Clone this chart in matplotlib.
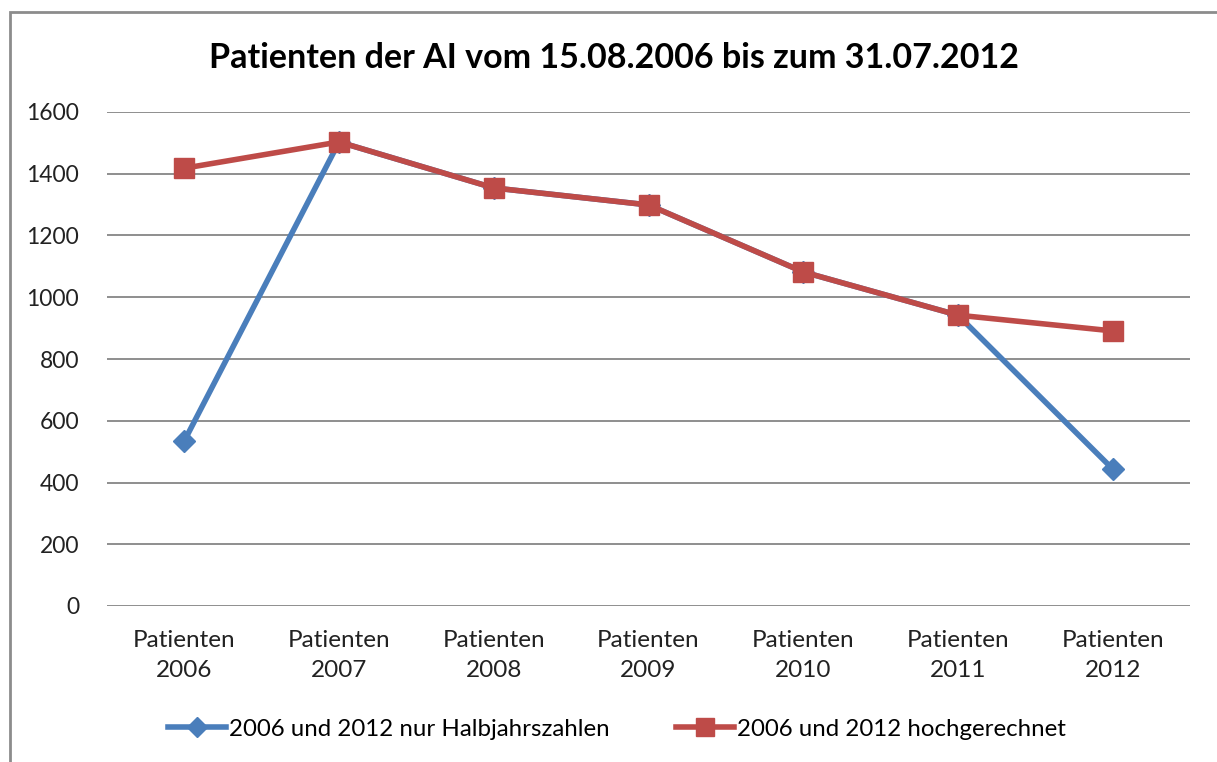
import matplotlib
matplotlib.use("Agg")
import matplotlib.pyplot as plt
from matplotlib.patches import Rectangle
from matplotlib.lines import Line2D

categories = ["Patienten\n2006", "Patienten\n2007", "Patienten\n2008", "Patienten\n2009",
              "Patienten\n2010", "Patienten\n2011", "Patienten\n2012"]
halbjahr = [535, 1503, 1354, 1299, 1082, 942, 444]
hochgerechnet = [1418, 1503, 1354, 1299, 1082, 942, 891]
yticks = [0, 200, 400, 600, 800, 1000, 1200, 1400, 1600]
title = "Patienten der AI vom 15.08.2006 bis zum 31.07.2012"
labels = ["2006 und 2012 nur Halbjahrszahlen", "2006 und 2012 hochgerechnet"]

plt.rcParams['font.family'] = ['Lato', 'DejaVu Sans']

W, H = 1217, 762
fig = plt.figure(figsize=(W / 100, H / 100), dpi=100)
fig.patch.set_facecolor("white")

# chart border
fig.add_artist(Rectangle((10 / W, -0.1), 1.2, 1 - 12 / H + 0.1, transform=fig.transFigure,
                         fill=False, edgecolor="#8c8c8c", linewidth=2))

ax = fig.add_axes([107 / W, 1 - 606 / H, (1190 - 107) / W, (606 - 112) / H])
x = list(range(len(categories)))
blue = "#4A7EBB"
red = "#BE4B48"
ax.plot(x, halbjahr, color=blue, linewidth=4, marker="D", markersize=11, zorder=3)
ax.plot(x, hochgerechnet, color=red, linewidth=4, marker="s", markersize=14, zorder=4)

ax.set_xlim(-0.5, len(categories) - 0.5)
ax.set_ylim(0, 1600)
ax.set_yticks(yticks)
ax.set_yticklabels([str(v) for v in yticks], fontsize=16.5, color="#222222")
ax.set_xticks(x)
ax.set_xticklabels(categories, fontsize=17.5, color="#222222", linespacing=1.55)
ax.tick_params(axis="both", length=0)
ax.tick_params(axis="y", pad=20)
ax.tick_params(axis="x", pad=17)
for s in ax.spines.values():
    s.set_visible(False)
ax.grid(axis="y", color="#868686", linewidth=1.3)
ax.set_axisbelow(True)

fig.text(614 / W, 1 - 58 / H, title, ha="center", va="center", fontsize=24.5, fontweight="bold",
         color="black")

handles = [Line2D([], [], color=blue, linewidth=4, marker="D", markersize=10),
           Line2D([], [], color=red, linewidth=4, marker="s", markersize=13)]
fig.legend(handles, labels, loc="center", bbox_to_anchor=(617 / W, 1 - 729 / H), ncol=2,
           frameon=False, fontsize=17.3, handlelength=2.4, handletextpad=0.15, columnspacing=2.75)

fig.savefig("out.png", dpi=100, facecolor="white")
